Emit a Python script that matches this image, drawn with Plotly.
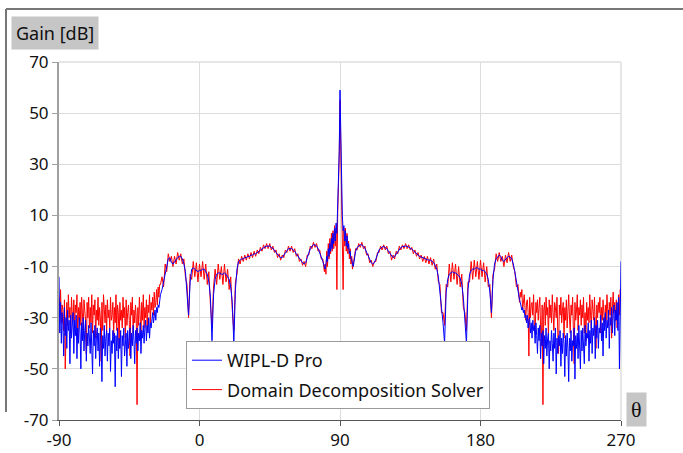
import plotly.graph_objects as go

# ---------------- data ----------------
# angle grid: 0.5 deg steps in the side-lobe regions and around the main beam,
# 1 deg steps elsewhere
THETA_A = [-90 + 0.5 * i for i in range(131)]   # -90 .. -25
THETA_B = list(range(-24, 80))                  # -24 .. 79
THETA_C = [80 + 0.5 * i for i in range(41)]     # 80 .. 100
THETA_D = list(range(101, 205))                 # 101 .. 204
THETA_E = [205 + 0.5 * i for i in range(131)]   # 205 .. 270
THETA = THETA_A + THETA_B + THETA_C + THETA_D + THETA_E

# WIPL-D Pro gain [dB]
WIPLD_A = [
    -14, -36, -24, -40, -28, -33, -45, -26, -37, -30,   # -90 ..
    -42, -27, -35, -31, -48, -29, -38, -33, -28, -44,   # -85 ..
    -31, -37, -29, -46, -34, -40, -30, -36, -50, -32,   # -80 ..
    -39, -30, -43, -35, -31, -47, -36, -41, -33, -38,   # -75 ..
    -44, -32, -39, -52, -35, -41, -33, -46, -37, -34,   # -70 ..
    -43, -36, -49, -34, -40, -55, -37, -42, -33, -45,   # -65 ..
    -38, -35, -47, -36, -41, -34, -51, -39, -44, -35,   # -60 ..
    -40, -36, -57, -37, -43, -34, -46, -38, -42, -35,   # -55 ..
    -53, -37, -41, -34, -45, -39, -36, -49, -35, -42,   # -50 ..
    -38, -34, -46, -36, -41, -33, -39, -48, -35, -40,   # -45 ..
    -34, -43, -36, -39, -32, -44, -35, -38, -33, -40,   # -40 ..
    -34, -31, -39, -33, -36, -30, -38, -32, -34, -30,   # -35 ..
    -28, -32, -29, -27, -31, -26, -28, -25, -26, -23,   # -30 ..
    -21,                                                # -25
]
WIPLD_B = [
    -19, -16, -12, -9,                                  # -24..-21
    -7, -6.5, -8.5, -9, -8, -7, -6.5, -6, -6, -7,       # -20..-11
    -9, -12, -19, -29, -16, -11, -10.5, -11, -11.5, -12,  # -10..-1
    -11.5, -11.5, -11, -11, -12, -13, -16, -22, -39, -21,  # 0..9
    -15, -13, -12.5, -12.5, -13, -13, -12.5, -13, -14, -15,  # 10..19
    -18, -24, -40, -19, -11, -8, -7.5, -7, -7, -6.5,    # 20..29
    -6.5, -6, -6, -5.5, -5.5, -5, -5, -4.5, -4, -3.5,   # 30..39
    -3, -2.5, -2.2, -2, -2, -2, -2.5, -3, -3.5, -4.5,   # 40..49
    -5.5, -6, -6.5, -6.5, -5.5, -4.5, -3.5, -3, -3, -3,  # 50..59
    -3.5, -4, -5, -6, -7, -8, -8.5, -9, -8.5, -6.5,     # 60..69
    -4.5, -3, -2, -1.5, -1.5, -2, -3, -4.5, -6, -8,     # 70..79
]
WIPLD_C = [
    -10, -11, -9, -6, -8, -3, -6, -1, -4, 1,            # 80..84.5
    -3, 3, -1, 5, 0, 7, 3, 12, 19, 35,                  # 85..89.5
    59, 36, 18, 10, 4, 6, 0, 4, -2, 2,                  # 90..94.5
    -3, -1, -5, -4, -7, -7, -9, -10, -8, -6,            # 95..99.5
    -4,                                                 # 100
]
WIPLD_D = [
    -2.5, -1.8, -1.5, -1.5, -2, -3, -4.5, -6, -7.5, -8.5,   # 101..110
    -9, -8.5, -7, -5, -3.5, -2.8, -2.3, -2.2, -2.5, -3,     # 111..120
    -4, -5, -6, -6.5, -6, -5, -4, -3, -2.5, -2.2,           # 121..130
    -2, -2, -2, -2.3, -2.7, -3.2, -3.8, -4.5, -5, -5.5,     # 131..140
    -6, -6.3, -6.7, -7, -7, -7.3, -7.5, -7.5, -8, -8.5,     # 141..150
    -9.5, -11, -14, -19, -26, -32, -40, -20, -15, -13,      # 151..160
    -12.5, -12, -12.5, -12.5, -13, -13.5, -14.5, -17, -22, -30,  # 161..170
    -40, -19, -13, -11.5, -11, -11, -10.5, -10.5, -11, -11,  # 171..180
    -11.5, -11.5, -12, -13, -15, -20, -28, -15, -9, -7,     # 181..190
    -6, -5.5, -6, -7.5, -8, -7, -6.5, -6, -6.2, -7,         # 191..200
    -9, -12, -16, -20,                                      # 201..204
]
WIPLD_E = [
    -23, -24, -25, -27, -26, -28, -27, -30, -29, -32,   # 205 ..
    -29, -34, -31, -30, -36, -32, -38, -31, -35, -33,   # 210 ..
    -40, -32, -37, -44, -34, -39, -33, -46, -36, -41,   # 215 ..
    -35, -48, -37, -42, -34, -45, -38, -36, -50, -39,   # 220 ..
    -43, -35, -40, -47, -36, -42, -34, -52, -38, -44,   # 225 ..
    -37, -41, -35, -49, -38, -44, -36, -40, -53, -37,   # 230 ..
    -45, -36, -42, -55, -38, -43, -35, -47, -39, -41,   # 235 ..
    -34, -54, -37, -42, -36, -46, -33, -40, -50, -35,   # 240 ..
    -43, -34, -39, -48, -33, -41, -36, -38, -32, -47,   # 245 ..
    -35, -40, -31, -44, -34, -37, -30, -46, -33, -38,   # 250 ..
    -31, -42, -34, -36, -29, -39, -32, -45, -30, -35,   # 255 ..
    -28, -38, -31, -34, -27, -42, -30, -33, -26, -36,   # 260 ..
    -29, -25, -37, -27, -31, -24, -35, -22, -50, -19,   # 265 ..
    -8,                                                 # 270
]

# Domain Decomposition Solver gain [dB]
DDS_A = [
    -22, -29, -19, -32, -25, -27, -35, -23, -50, -28,   # -90 ..
    -24, -33, -21, -30, -26, -36, -22, -29, -31, -23,   # -85 ..
    -34, -25, -28, -21, -37, -26, -31, -24, -33, -22,   # -80 ..
    -29, -35, -23, -27, -31, -44, -24, -30, -22, -34,   # -75 ..
    -26, -32, -21, -36, -25, -29, -23, -38, -27, -31,   # -70 ..
    -22, -33, -26, -30, -47, -24, -35, -21, -28, -32,   # -65 ..
    -25, -36, -23, -30, -27, -34, -22, -31, -29, -24,   # -60 ..
    -37, -26, -32, -21, -35, -25, -28, -42, -24, -31,   # -55 ..
    -27, -34, -22, -30, -26, -38, -23, -33, -28, -25,   # -50 ..
    -31, -45, -24, -29, -22, -36, -27, -32, -25, -30,   # -45 ..
    -64, -26, -33, -22, -29, -37, -24, -31, -21, -34,   # -40 ..
    -26, -30, -23, -35, -25, -28, -21, -32, -24, -27,   # -35 ..
    -22, -29, -20, -26, -24, -19, -25, -18, -22, -17,   # -30 ..
    -17,                                                # -25
]
DDS_B = [
    -14, -18, -9, -12,                                  # -24..-21
    -5, -8, -6, -10, -6, -9, -4.5, -7.5, -5, -9,        # -20..-11
    -7, -14, -17, -30, -13, -15, -8, -14, -8.5, -16,    # -10..-1
    -9, -14, -8, -15, -9, -17, -12, -25, -33, -18,      # 0..9
    -11, -17, -9, -15, -10, -17, -9, -16, -11, -19,     # 10..19
    -14, -27, -35, -16, -13, -7, -9, -6, -8, -5.5,      # 20..29
    -7.5, -5, -7, -4.5, -6.5, -4, -6, -3.5, -5, -2.5,   # 30..39
    -4, -1.5, -3, -1, -3, -1, -3.5, -2, -4.5, -3.5,     # 40..49
    -6.5, -5, -7.5, -5.5, -6.5, -3.5, -4.5, -2, -4, -2,  # 50..59
    -4.5, -3, -6, -5, -8, -7, -9.5, -8, -10, -5.5,      # 60..69
    -5.5, -2, -3, -0.5, -2.5, -1, -4, -3.5, -7, -7,     # 70..79
]
DDS_C = [
    -12, -9, -13, -4, -10, -1, -7, 1, -5, 3,            # 80..84.5
    -4, 4, -3, 6, -2, 5, -19, 10, 18, 33,               # 85..89.5
    55, 34, 16, 8, -19, 5, -2, 5, -4, 3,                # 90..94.5
    -5, 0, -7, -3, -9, -6, -11, -9, -7, -5,             # 95..99.5
    -3,                                                 # 100
]
DDS_D = [
    -3.5, -1, -2.5, -0.5, -3, -2, -5.5, -5, -8.5, -7.5,     # 101..110
    -10, -8, -8, -4.5, -4.5, -2, -3.5, -1.5, -3.5, -2,      # 111..120
    -5, -4, -7.5, -5.5, -7, -4, -5, -2, -3.5, -1.5,         # 121..130
    -3, -1, -3, -1.5, -3.5, -2.5, -5, -3.5, -6, -4.5,       # 131..140
    -7, -5.5, -8, -6, -8.5, -6, -9, -6.5, -9.5, -7,         # 141..150
    -11, -9, -16, -17, -28, -28, -33, -17, -18, -9,         # 151..160
    -16, -8.5, -15, -9, -17, -10, -18, -13, -26, -28,       # 161..170
    -35, -16, -16, -8, -15, -7.5, -14, -8, -15, -7.5,       # 171..180
    -14, -8.5, -16, -10, -18, -17, -30, -13, -11, -5,       # 181..190
    -8, -4.5, -8, -6, -10, -5.5, -8.5, -4.5, -8, -5.5,      # 191..200
    -10, -12, -18, -17,                                     # 201..204
]
DDS_E = [
    -24, -20, -22, -19, -27, -23, -21, -26, -31, -24,   # 205 ..
    -23, -28, -45, -22, -30, -25, -24, -29, -21, -33,   # 210 ..
    -36, -24, -28, -23, -31, -26, -22, -34, -41, -25,   # 215 ..
    -64, -27, -24, -33, -22, -29, -26, -37, -23, -30,   # 220 ..
    -25, -32, -21, -28, -35, -24, -26, -30, -22, -36,   # 225 ..
    -44, -25, -29, -22, -32, -27, -24, -38, -26, -31,   # 230 ..
    -23, -34, -28, -21, -30, -36, -25, -29, -22, -33,   # 235 ..
    -48, -24, -31, -27, -21, -35, -26, -29, -23, -33,   # 240 ..
    -25, -30, -22, -36, -28, -39, -24, -31, -26, -32,   # 245 ..
    -21, -29, -34, -23, -27, -31, -22, -35, -42, -25,   # 250 ..
    -30, -24, -28, -22, -36, -26, -31, -23, -29, -33,   # 255 ..
    -25, -31, -21, -27, -33, -24, -29, -22, -38, -26,   # 260 ..
    -20, -28, -24, -31, -23, -34, -26, -21, -29, -19,   # 265 ..
    -21,                                                # 270
]

WIPLD = WIPLD_A + WIPLD_B + WIPLD_C + WIPLD_D + WIPLD_E
DDS = DDS_A + DDS_B + DDS_C + DDS_D + DDS_E
assert len(WIPLD) == len(THETA), [len(v) for v in (WIPLD_A, WIPLD_B, WIPLD_C, WIPLD_D, WIPLD_E)]
assert len(DDS) == len(THETA), [len(v) for v in (DDS_A, DDS_B, DDS_C, DDS_D, DDS_E)]

X_TICKS = [-90, 0, 90, 180, 270]
Y_TICKS = [-70, -50, -30, -10, 10, 30, 50, 70]
SERIES_NAMES = ["WIPL-D Pro", "Domain Decomposition Solver"]

# ---------------- figure ----------------
W, H = 683, 453
L, R, T, B = 59, 62, 62, 33
PW, PH = W - L - R, H - T - B


def px(xp):
    return (xp - L) / PW


def py(yp):
    return (H - B - yp) / PH


FONT = "Noto Sans, Open Sans, sans-serif"

fig = go.Figure()
fig.add_trace(go.Scatter(x=THETA, y=DDS, mode="lines", name=SERIES_NAMES[1],
                         legendgroup="g2", legendrank=2,
                         line=dict(color="#ff0000", width=1)))
fig.add_trace(go.Scatter(x=THETA, y=WIPLD, mode="lines", name=SERIES_NAMES[0],
                         legendgroup="g1", legendrank=1,
                         line=dict(color="#0000ff", width=1)))

fig.update_layout(
    width=W, height=H,
    margin=dict(l=L, r=R, t=T, b=B, autoexpand=False),
    paper_bgcolor="white", plot_bgcolor="white",
    font=dict(family=FONT, size=17, color="#111111"),
    showlegend=True,
    legend=dict(
        x=px(186), y=py(341), xanchor="left", yanchor="top",
        bgcolor="white", bordercolor="#9a9a9a", borderwidth=1,
        font=dict(family=FONT, size=18, color="#111111"),
        traceorder="grouped", tracegroupgap=3,
        itemwidth=30,
    ),
    xaxis=dict(
        range=[-90, 270], tickvals=X_TICKS, ticktext=[str(v) for v in X_TICKS],
        showgrid=True, gridcolor="#dcdcdc", gridwidth=1,
        showline=True, linecolor="#555555", linewidth=1,
        ticks="outside", ticklen=5, tickcolor="#555555",
        zeroline=False, mirror=False, automargin=False,
        tickfont=dict(family=FONT, size=17, color="#111111"),
    ),
    yaxis=dict(
        range=[-70, 70], tickvals=Y_TICKS, ticktext=[str(v) for v in Y_TICKS],
        showgrid=True, gridcolor="#dcdcdc", gridwidth=1,
        showline=True, linecolor="#a0a0a0", linewidth=2,
        ticks="outside", ticklen=5, tickcolor="#a0a0a0",
        zeroline=False, automargin=False,
        tickfont=dict(family=FONT, size=17, color="#111111"),
    ),
    shapes=[
        # outer frame (top and left edges)
        dict(type="line", xref="paper", yref="paper", x0=px(6), x1=px(690),
             y0=py(9), y1=py(9), line=dict(color="#777777", width=2)),
        dict(type="line", xref="paper", yref="paper", x0=px(6), x1=px(6),
             y0=py(9), y1=py(412), line=dict(color="#777777", width=2)),
        # light top/right border of plot area
        dict(type="line", xref="paper", yref="paper", x0=0, x1=1, y0=1, y1=1,
             line=dict(color="#e6e6e6", width=2), layer="below"),
        dict(type="line", xref="paper", yref="paper", x0=1, x1=1, y0=0, y1=1,
             line=dict(color="#e6e6e6", width=2), layer="below"),
    ],
    annotations=[
        dict(text="Gain [dB]", xref="paper", yref="paper", x=px(11), y=py(33.5),
             xanchor="left", yanchor="middle", showarrow=False,
             bgcolor="#c6c6c6", borderpad=4,
             font=dict(family=FONT, size=18, color="#111111")),
        dict(text="θ", xref="paper", yref="paper", x=px(626), y=py(409),
             xanchor="left", yanchor="middle", showarrow=False,
             bgcolor="#c6c6c6", borderpad=4,
             font=dict(family="Liberation Serif, DejaVu Serif, serif", size=22, color="#111111")),
    ],
)

fig.write_html("out.html", config={"displayModeBar": False},
               post_script="document.body.style.margin='0px';")
